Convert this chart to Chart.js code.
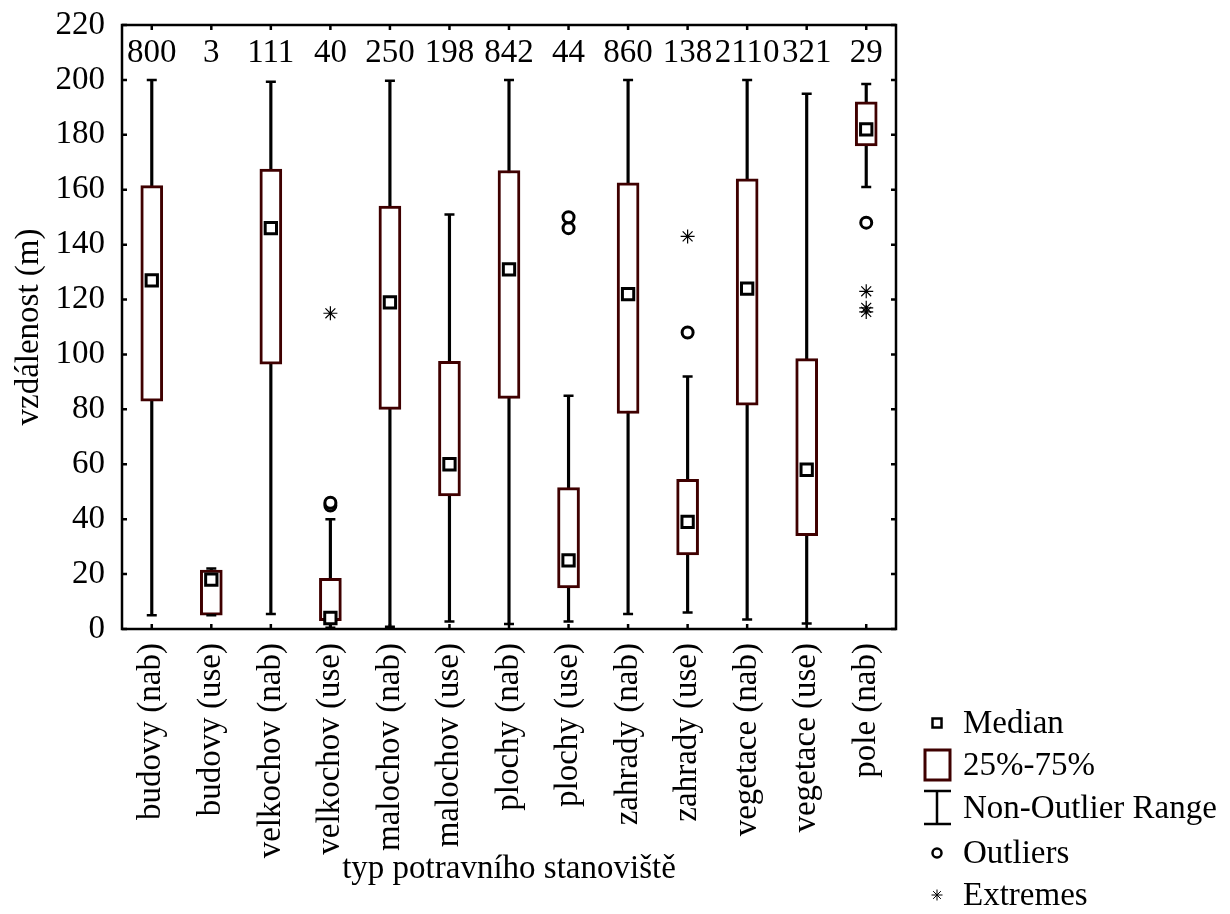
<!DOCTYPE html>
<html>
<head>
<meta charset="utf-8">
<script src="https://cdn.jsdelivr.net/npm/chart.js@4.4.1/dist/chart.umd.min.js"></script>
<style>
    html, body { margin: 0; padding: 0; background: #fff; }
    #wrap { width: 1230px; height: 914px; }
</style>
</head>
<body>
<div id="wrap"><canvas id="boxChart" width="1230" height="914"></canvas></div>
<script>
// Data
const categories = ['budovy (nab)', 'budovy (use)', 'velkochov (nab)', 'velkochov (use)', 'malochov (nab)',
    'malochov (use)', 'plochy (nab)', 'plochy (use)', 'zahrady (nab)', 'zahrady (use)',
    'vegetace (nab)', 'vegetace (use)', 'pole (nab)'];
const counts = [800, 3, 111, 40, 250, 198, 842, 44, 860, 138, 2110, 321, 29];
const medians = [127, 18, 146, 4, 119, 60, 131, 25, 122, 39, 124, 58, 182];
const q1 = [83, 5, 96.5, 3, 80, 48.5, 84, 15, 78.5, 27, 81.5, 34, 176];
const q3 = [161.5, 21.5, 167.5, 18.5, 154, 97.5, 167, 51.5, 162.5, 54.5, 164, 98.5, 192];
const rangeMin = [5, 5, 5.5, 0.5, 0.8, 2.7, 1.8, 2.7, 5.5, 6, 3.5, 2, 161];
const rangeMax = [200, 22, 199.3, 40, 199.7, 151, 200, 85, 200, 92, 200, 195, 198.5];
const outlierCats = ['velkochov (use)', 'velkochov (use)', 'plochy (use)', 'plochy (use)', 'zahrady (use)', 'pole (nab)'];
const outlierVals = [45, 46, 146, 150, 108, 148];
const extremeCats = ['velkochov (use)', 'zahrady (use)', 'pole (nab)', 'pole (nab)', 'pole (nab)'];
const extremeVals = [115, 143, 123, 117, 115.5];
const yMin = 0, yMax = 220, yStep = 20;

const FONT = "'Liberation Serif', 'Times New Roman', serif";
const FS = 33;
const BOX_COLOR = '#3f0000';

// frame with inward ticks, n counts on top
const framePlugin = {
    id: 'frame',
    afterDatasetsDraw(chart) {
        const { ctx, chartArea: a, scales: { x, y } } = chart;
        ctx.save();
        ctx.strokeStyle = '#000';
        ctx.lineWidth = 2.5;
        ctx.strokeRect(a.left, a.top, a.right - a.left, a.bottom - a.top);
        ctx.beginPath();
        for (let v = yMin; v <= yMax; v += yStep) {
            const py = y.getPixelForValue(v);
            ctx.moveTo(a.left, py); ctx.lineTo(a.left + 5, py);
            ctx.moveTo(a.right, py); ctx.lineTo(a.right - 5, py);
        }
        categories.forEach((c, i) => {
            const px = x.getPixelForValue(i);
            ctx.moveTo(px, a.bottom); ctx.lineTo(px, a.bottom - 5);
            ctx.moveTo(px, a.top); ctx.lineTo(px, a.top + 5);
        });
        ctx.stroke();

        ctx.fillStyle = '#000';
        ctx.font = FS + 'px ' + FONT;
        ctx.textAlign = 'center';
        ctx.textBaseline = 'middle';
        counts.forEach((n, i) => {
            ctx.fillText(String(n), x.getPixelForValue(i), y.getPixelForValue(209.5));
        });
        ctx.restore();
    }
};

// Statistica-style legend below right
const legendPlugin = {
    id: 'boxLegend',
    afterDraw(chart) {
        const ctx = chart.ctx;
        const sx = 937, tx = 963;
        const rows = [723, 765, 808, 853, 895];
        const labels = ['Median', '25%-75%', 'Non-Outlier Range', 'Outliers', 'Extremes'];
        ctx.save();
        ctx.strokeStyle = '#000';
        ctx.lineWidth = 2.5;
        ctx.strokeRect(sx - 4.5, rows[0] - 4.5, 9, 9);

        ctx.strokeStyle = BOX_COLOR;
        ctx.lineWidth = 3;
        ctx.strokeRect(sx - 12, rows[1] - 15, 25, 30);

        ctx.strokeStyle = '#000';
        ctx.lineWidth = 2.5;
        ctx.beginPath();
        ctx.moveTo(sx, rows[2] - 17); ctx.lineTo(sx, rows[2] + 16);
        ctx.moveTo(sx - 13, rows[2] - 17); ctx.lineTo(sx + 14, rows[2] - 17);
        ctx.moveTo(sx - 13, rows[2] + 16); ctx.lineTo(sx + 14, rows[2] + 16);
        ctx.stroke();

        ctx.beginPath();
        ctx.arc(sx, rows[3], 4.5, 0, Math.PI * 2);
        ctx.stroke();

        ctx.lineWidth = 1;
        ctx.beginPath();
        for (let k = 0; k < 4; k++) {
            const ang = k * Math.PI / 4;
            ctx.moveTo(sx - Math.sin(ang) * 5.5, rows[4] - Math.cos(ang) * 5.5);
            ctx.lineTo(sx + Math.sin(ang) * 5.5, rows[4] + Math.cos(ang) * 5.5);
        }
        ctx.stroke();

        ctx.fillStyle = '#000';
        ctx.font = FS + 'px ' + FONT;
        ctx.textAlign = 'left';
        ctx.textBaseline = 'middle';
        labels.forEach((t, i) => ctx.fillText(t, tx, rows[i] + 1));
        ctx.restore();
    }
};

const ctx = document.getElementById('boxChart');
new Chart(ctx, {
    type: 'bar',
    data: {
        labels: categories,
        datasets: [
            {
                label: 'Extremes',
                type: 'line',
                showLine: false,
                data: extremeCats.map((c, i) => ({ x: c, y: extremeVals[i] })),
                pointStyle: 'star',
                radius: 7,
                borderColor: '#000',
                borderWidth: 1.2,
                order: 0
            },
            {
                label: 'Outliers',
                type: 'line',
                showLine: false,
                data: outlierCats.map((c, i) => ({ x: c, y: outlierVals[i] })),
                pointStyle: 'circle',
                radius: 5.5,
                backgroundColor: '#fff',
                borderColor: '#000',
                borderWidth: 3,
                order: 0
            },
            {
                label: 'Median',
                type: 'line',
                showLine: false,
                data: medians,
                pointStyle: 'rect',
                radius: 8,
                backgroundColor: '#fff',
                borderColor: '#000',
                borderWidth: 3,
                order: 1
            },
            {
                label: 'caps',
                type: 'line',
                showLine: false,
                data: categories.map((c, i) => ({ x: c, y: rangeMin[i] }))
                    .concat(categories.map((c, i) => ({ x: c, y: rangeMax[i] }))),
                pointStyle: 'line',
                radius: 5,
                borderColor: '#000',
                borderWidth: 2.5,
                order: 2
            },
            {
                label: '25%-75%',
                data: categories.map((c, i) => [q1[i], q3[i]]),
                backgroundColor: '#fff',
                borderColor: BOX_COLOR,
                borderWidth: 3,
                borderSkipped: false,
                barThickness: 22,
                grouped: false,
                order: 3
            },
            {
                label: 'Non-Outlier Range',
                data: categories.map((c, i) => [rangeMin[i], rangeMax[i]]),
                backgroundColor: '#000',
                borderWidth: 0,
                barThickness: 2.5,
                grouped: false,
                order: 4
            }
        ]
    },
    options: {
        responsive: false,
        animation: false,
        layout: { padding: { top: 25, right: 334, bottom: 25, left: 0 } },
        plugins: {
            legend: { display: false },
            tooltip: { enabled: false }
        },
        scales: {
            x: {
                type: 'category',
                offset: true,
                grid: { display: false, drawTicks: false },
                border: { display: false },
                ticks: {
                    color: '#000',
                    font: { family: FONT, size: FS },
                    minRotation: 90,
                    maxRotation: 90,
                    autoSkip: false,
                    padding: 14
                },
                title: {
                    display: true,
                    text: 'typ potravního stanoviště',
                    color: '#000',
                    font: { family: FONT, size: FS },
                    padding: { top: 0, bottom: 0 }
                },
                afterFit(scale) {
                    scale.height = 260;
                    scale.paddingLeft = 0;
                    scale.paddingRight = 0;
                }
            },
            y: {
                min: yMin,
                max: yMax,
                grid: { display: false, drawTicks: false },
                border: { display: false },
                ticks: {
                    stepSize: yStep,
                    color: '#000',
                    font: { family: FONT, size: FS },
                    padding: 17
                },
                title: {
                    display: true,
                    text: 'vzdálenost (m)',
                    color: '#000',
                    font: { family: FONT, size: FS },
                    padding: { top: 10, bottom: 0 }
                },
                afterFit(scale) {
                    scale.width = 122;
                    scale.paddingTop = 0;
                    scale.paddingBottom = 0;
                }
            }
        }
    },
    plugins: [framePlugin, legendPlugin]
});
</script>
</body>
</html>
